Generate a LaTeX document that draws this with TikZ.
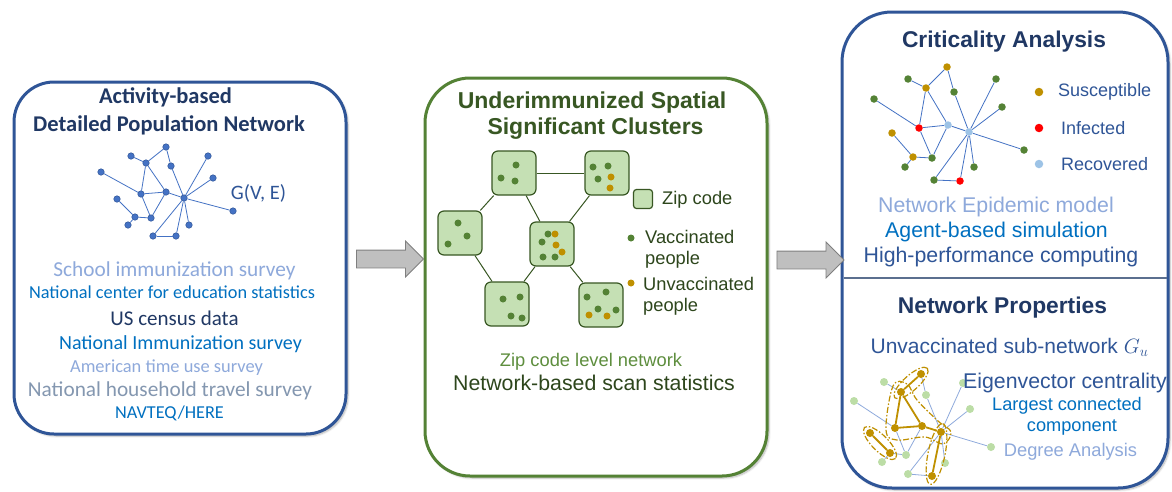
\documentclass[tikz,border=0pt]{standalone}
\usepackage{fontspec}
\setmainfont{Carlito}
\newfontfamily\arialf{Liberation Sans}
\usetikzlibrary{shapes.arrows,shadows.blur}

\definecolor{navy}{HTML}{203864}
\definecolor{midblue}{HTML}{2F5597}
\definecolor{brblue}{HTML}{0070C0}
\definecolor{paleblue}{HTML}{8EA9DB}
\definecolor{grayblue}{HTML}{8497B0}
\definecolor{nodeblue}{HTML}{4472C4}
\definecolor{dkgreen}{HTML}{385723}
\definecolor{ggreen}{HTML}{548235}
\definecolor{txtgreen}{HTML}{5E8E3E}
\definecolor{zipfill}{HTML}{C5E0B4}
\definecolor{gold}{HTML}{BF9000}
\definecolor{recov}{HTML}{9DC3E6}
\definecolor{ltgreen}{HTML}{BCDDA6}
\definecolor{ltedge}{HTML}{8FAADC}
\definecolor{arrowfill}{HTML}{BFBFBF}
\definecolor{arrowline}{HTML}{7F7F7F}
\definecolor{divider}{HTML}{5B6F8F}

\newcommand\fsz[1]{\fontsize{#1}{#1}\selectfont}

\tikzset{
  panel/.style={draw, line width=3pt, fill=white, rounded corners=45pt,
    inner sep=0, blur shadow={shadow xshift=2pt, shadow yshift=-2pt,
    shadow blur steps=6, shadow opacity=30}},
  txt/.style={inner sep=0, anchor=center},
  ltxt/.style={inner sep=0, anchor=west},
  gdot/.style={circle, inner sep=0, minimum size=6.5pt, fill=nodeblue,
    draw=midblue, line width=0.5pt},
  gedge/.style={draw=nodeblue, line width=0.8pt},
  cdot/.style={circle, inner sep=0, minimum size=7.5pt, fill=#1},
  pedge/.style={draw=ltedge, line width=0.8pt},
  pgold/.style={draw=gold, line width=1.8pt},
  hull/.style={draw=gold, line width=1.2pt,
    dash pattern=on 6pt off 2pt on 1.5pt off 2pt},
  zip/.style={draw=dkgreen, line width=1.2pt, fill=zipfill,
    rounded corners=6pt, minimum size=44pt, inner sep=0},
  zedge/.style={draw=dkgreen, line width=1pt},
  zdot/.style={circle, inner sep=0, minimum size=7pt, fill=#1},
  blockarrow/.style={single arrow, draw=arrowline, fill=arrowfill,
    line width=0.8pt, inner xsep=0pt, inner ysep=8.5pt,
    single arrow head extend=9pt, minimum height=67pt}
}

\begin{document}
\begin{tikzpicture}[x=1pt, y=-1pt]
\useasboundingbox (0,0) rectangle (1172,491);

% ---------- panels ----------
\node[panel, draw=midblue, rounded corners=40pt, minimum width=332pt, minimum height=352pt] (b1) at (180,258) {};
\node[panel, draw=ggreen, minimum width=342pt, minimum height=398pt] (b2) at (596,277) {};
\node[panel, draw=midblue, rounded corners=50pt, minimum width=326pt, minimum height=476pt] (b3) at (1005,250) {};
\draw[divider, line width=1.2pt] (843.5,278) -- (1166.5,278);

% ---------- block arrows between panels ----------
\node[blockarrow] (a1) at (385.5,259) {};
\node[blockarrow] (a2) at (806,260) {};

% ---------- panel 1: population network ----------
\node[txt, text=navy] (t1a) at (165.5,97) {\fsz{22.5}\bfseries Activity-based};
\node[txt, text=navy] (t1b) at (169,125) {\fsz{22.5}\bfseries Detailed Population Network};

\foreach \n/\x/\y in {1/101/172, 2/131/156, 3/146/163, 4/166/147, 5/171/166,
  6/208/156, 7/213/178, 8/141/194, 9/166/192, 10/184/198, 11/233/211,
  12/117/199, 13/135/217, 14/151/218, 15/128/225, 16/189/225, 17/153/236, 18/176/236}
  \node[gdot] (g\n) at (\x,\y) {};
\foreach \a/\b in {1/8, 2/3, 3/4, 4/5, 3/8, 3/9, 8/9, 8/14, 9/14, 9/10, 5/10,
  6/10, 7/10, 11/10, 16/10, 17/10, 18/10, 17/18, 12/13, 13/14, 13/15}
  \draw[gedge] (g\a) -- (g\b);
\node[txt, text=midblue] (gve) at (258.5,193) {\fsz{20.5}G(V, E)};

\node[txt, text=paleblue] (s1) at (174.5,271) {\fsz{21.3}School immunization survey};
\node[txt, text=brblue] (s2) at (172,292) {\fsz{18.3}National center for education statistics};
\node[txt, text=navy] (s3) at (174.5,318) {\fsz{21}US census data};
\node[txt, text=brblue] (s4) at (180.5,344) {\fsz{20}National Immunization survey};
\node[txt, text=paleblue] (s5) at (166.5,368) {\fsz{18.4}American time use survey};
\node[txt, text=grayblue] (s6) at (170,391) {\fsz{21.3}National household travel survey};
\node[txt, text=brblue] (s7) at (169.5,413) {\fsz{18.2}NAVTEQ/HERE};

% ---------- panel 2: zip code clusters ----------
\node[txt, text=dkgreen] (t2a) at (592,103) {\arialf\fsz{23}\bfseries Underimmunized Spatial};
\node[txt, text=dkgreen] (t2b) at (595.5,129) {\arialf\fsz{23}\bfseries Significant Clusters};

\node[zip] (zA) at (514,173) {};
\node[zip] (zB) at (607,173) {};
\node[zip] (zC) at (460,233) {};
\node[zip] (zD) at (552,244) {};
\node[zip] (zE) at (507,304) {};
\node[zip] (zF) at (601,305) {};
\foreach \a/\b in {A/B, A/C, A/D, B/D, C/E, D/E, D/F}
  \draw[zedge] (z\a) -- (z\b);

\foreach \x/\y in {516/165, 501/178, 515/181,
  593/167, 608/166, 598/179,
  458/223, 467/236, 448/244,
  548/234, 542/242, 543/257, 555/257,
  503/299, 520/297, 511/316, 522/318,
  587/297, 606/292, 598/309, 616/310}
  \node[zdot=ggreen] at (\x,\y) {};
\foreach \x/\y in {611/177, 610/188, 555/234, 556/245, 562/252, 589/315, 607/316}
  \node[zdot=gold] at (\x,\y) {};

\node[zip, minimum size=19pt, rounded corners=3pt] (zleg) at (643,199) {};
\node[ltxt, text=dkgreen!80!black] (lz) at (662,200) {\arialf\fsz{18.3}Zip code};
\node[zdot=ggreen] (lvd) at (631,238) {};
\node[ltxt, text=dkgreen!80!black] (lv1) at (645,237) {\arialf\fsz{18.3}Vaccinated};
\node[ltxt, text=dkgreen!80!black] (lv2) at (645,260) {\arialf\fsz{18.3}people};
\node[zdot=gold] (lud) at (631,283) {};
\node[ltxt, text=dkgreen!80!black] (lu1) at (643,284) {\arialf\fsz{18.3}Unvaccinated};
\node[ltxt, text=dkgreen!80!black] (lu2) at (643,307) {\arialf\fsz{18.3}people};

\node[txt, text=txtgreen] (zl) at (591,362) {\arialf\fsz{18.3}Zip code level network};
\node[txt, text=dkgreen!80!black] (ns) at (594,383) {\arialf\fsz{21.3}Network-based scan statistics};

% ---------- panel 3 top: criticality analysis ----------
\node[txt, text=navy] (t3a) at (1004,42) {\arialf\fsz{22.8}\bfseries Criticality Analysis};

\foreach \n/\x/\y/\c in {1/874/99/ggreen, 2/908/79/ggreen, 3/926/88/gold,
  4/947/67/gold, 5/954/92/ggreen, 6/996/79/ggreen, 7/1002/107/ggreen,
  8/919/128/red, 9/948/125/recov, 10/969/132/recov, 11/1024/150/ggreen,
  12/892/133/gold, 13/913/157/gold, 14/932/158/ggreen, 15/905/167/ggreen,
  16/974/167/ggreen, 17/934/180/ggreen, 18/960/181/red}
  \node[cdot=\c] (c\n) at (\x,\y) {};
\foreach \a/\b in {1/8, 2/3, 3/4, 4/5, 3/8, 3/9, 8/9, 8/14, 9/14, 9/10, 5/10,
  6/10, 7/10, 11/10, 16/10, 17/10, 18/10, 17/18, 12/13, 13/14, 13/15}
  \draw[gedge] (c\a) -- (c\b);

\node[cdot=gold, minimum size=8.5pt] (ls) at (1039,92) {};
\node[ltxt, text=midblue] (lst) at (1058,92) {\arialf\fsz{18}Susceptible};
\node[cdot=red, minimum size=8.5pt] (li) at (1039,128) {};
\node[ltxt, text=midblue] (lit) at (1061,128) {\arialf\fsz{18}Infected};
\node[cdot=recov, minimum size=8.5pt] (lr) at (1039,164) {};
\node[ltxt, text=midblue] (lrt) at (1061,164) {\arialf\fsz{18}Recovered};

\node[txt, text=paleblue] (e1) at (996,207) {\arialf\fsz{21.3}Network Epidemic model};
\node[txt, text=brblue] (e2) at (996.5,232) {\arialf\fsz{21.3}Agent-based simulation};
\node[txt, text=midblue] (e3) at (1001,257) {\arialf\fsz{21.3}High-performance computing};

% ---------- panel 3 bottom: network properties ----------
\node[txt, text=navy] (t3b) at (1002.5,308) {\arialf\fsz{22.8}\bfseries Network Properties};
\node[txt, text=midblue] (un) at (1009.5,347) {\arialf\fsz{21}Unvaccinated sub-network $G_u$};

\foreach \n/\x/\y/\c in {1/854/401/ltgreen, 2/884/382/ltgreen, 3/901/392/gold,
  4/921/374/gold, 5/926/395/ltgreen, 6/963/383/ltgreen, 7/970/409/ltgreen,
  8/895/428/gold, 9/922/426/gold, 10/941/432/gold, 11/991/447/ltgreen,
  12/870/433/gold, 13/890/453/gold, 14/906/455/ltgreen, 15/882/462/ltgreen,
  16/945/463/ltgreen, 17/908/474/ltgreen, 18/932/476/gold}
  \node[cdot=\c, minimum size=8pt] (p\n) at (\x,\y) {};
\foreach \a/\b in {1/8, 2/3, 4/5, 5/10, 6/10, 7/10, 11/10, 16/10, 17/10,
  17/18, 8/14, 9/14, 13/14, 13/15}
  \draw[pedge] (p\a) -- (p\b);
\foreach \a/\b in {4/3, 3/8, 3/9, 8/9, 9/10, 10/18, 12/13}
  \draw[pgold] (p\a) -- (p\b);

% outlines of the unvaccinated clusters
\draw[hull, rotate around={42:(911,383)}] (911,383) ellipse (22 and 7.5);
\draw[hull, rotate around={-45:(880,443)}] (880,443) ellipse (22 and 8);
\draw[hull, rotate around={78.4:(936.5,454)}] (936.5,454) ellipse (31 and 8.5);
\draw[hull] plot[smooth cycle, tension=0.6] coordinates {(893,386) (886,430) (897,440)
  (925,437) (943,444) (951,432) (938,421) (917,400) (907,384)};

\node[txt, text=midblue] (ev) at (1065,383) {\arialf\fsz{21.3}Eigenvector centrality};
\node[txt, text=brblue] (lc1) at (1067,406) {\arialf\fsz{18.2}Largest connected};
\node[txt, text=brblue] (lc2) at (1072,427) {\arialf\fsz{18.2}component};
\node[txt, text=paleblue] (da) at (1070.5,452) {\arialf\fsz{18.3}Degree Analysis};
\end{tikzpicture}
\end{document}
